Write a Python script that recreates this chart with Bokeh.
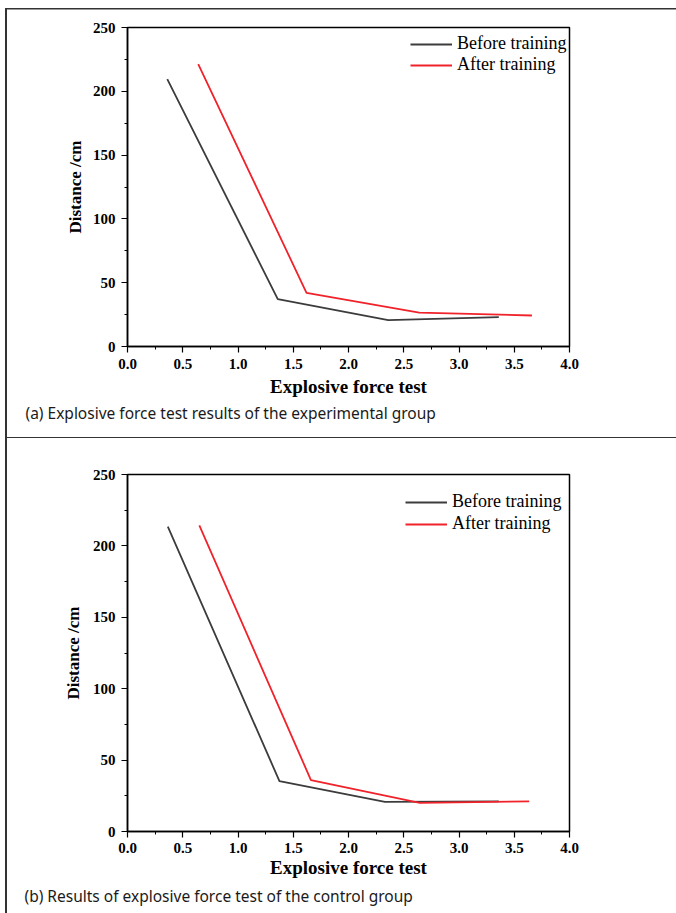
from bokeh.plotting import figure
from bokeh.layouts import column
from bokeh.models import Title, Legend, LegendItem, FixedTicker, Range1d, NumeralTickFormatter
from bokeh.embed import file_html
from bokeh.resources import INLINE

# ---- data ----
x_ticks = [0.0, 0.5, 1.0, 1.5, 2.0, 2.5, 3.0, 3.5, 4.0]
x_minor = [0.25, 0.75, 1.25, 1.75, 2.25, 2.75, 3.25, 3.75]
y_ticks = [0, 50, 100, 150, 200, 250]
y_minor = [25, 75, 125, 175, 225]

series_names = ["Before training", "After training"]

a_before_x = [0.36, 1.36, 2.36, 3.36]
a_before_y = [209.5, 37.1, 20.6, 23.0]
a_after_x = [0.64, 1.62, 2.64, 3.66]
a_after_y = [221.3, 42.1, 26.6, 24.3]

b_before_x = [0.365, 1.375, 2.33, 3.36]
b_before_y = [213.5, 35.3, 20.8, 21.1]
b_after_x = [0.65, 1.66, 2.645, 3.635]
b_after_y = [214.4, 36.0, 20.1, 21.1]

x_label = "Explosive force test"
y_label = "Distance /cm"
caption_a = "(a) Explosive force test results of the experimental group"
caption_b = "(b) Results of explosive force test of the control group"

SERIF = "Liberation Serif"
SANS = "Noto Sans"
DARK = "#3c3c3c"
RED = "#f0222a"
RULE = "#333333"


def panel(bx, by, ax, ay, caption, width, height, ml, mr, mt, mb,
          leg_loc, leg_spacing, cap_offset, cap_standoff, x_tick_standoff,
          x_label_standoff, y_label_standoff, styles):
    p = figure(width=width, height=height, output_backend="svg", toolbar_location=None,
               x_range=Range1d(0, 4), y_range=Range1d(0, 250),
               min_border_left=ml, min_border_right=mr, min_border_top=mt, min_border_bottom=mb,
               background_fill_color="white", border_fill_alpha=0, styles=styles)
    p.grid.visible = False
    p.outline_line_color = "black"
    p.outline_line_width = 1.5
    p.outline_line_alpha = 1.0

    r1 = p.line(bx, by, line_color=DARK, line_width=1.8)
    r2 = p.line(ax, ay, line_color=RED, line_width=1.8)

    p.xaxis.ticker = FixedTicker(ticks=x_ticks, minor_ticks=x_minor)
    p.yaxis.ticker = FixedTicker(ticks=y_ticks, minor_ticks=y_minor)
    p.xaxis.formatter = NumeralTickFormatter(format="0.0")
    for axis in (p.xaxis, p.yaxis):
        axis.axis_line_color = "black"
        axis.axis_line_width = 1.5
        axis.major_tick_line_color = "black"
        axis.minor_tick_line_color = "black"
        axis.major_tick_line_width = 1.2
        axis.minor_tick_line_width = 1.0
        axis.major_tick_in = 0
        axis.major_tick_out = 6
        axis.minor_tick_in = 0
        axis.minor_tick_out = 3
        axis.major_label_text_font = SERIF
        axis.major_label_text_font_style = "bold"
        axis.major_label_text_font_size = "15px"
        axis.major_label_text_color = "black"
        axis.axis_label_text_font = SERIF
        axis.axis_label_text_font_style = "bold"
        axis.axis_label_text_color = "black"
        axis.major_label_standoff = 6
    p.xaxis.major_label_standoff = x_tick_standoff
    p.xaxis.axis_label = x_label
    p.yaxis.axis_label = y_label
    p.xaxis.axis_label_text_font_size = "19px"
    p.yaxis.axis_label_text_font_size = "17px"
    p.xaxis.axis_label_standoff = x_label_standoff
    p.yaxis.axis_label_standoff = y_label_standoff

    legend = Legend(items=[LegendItem(label=series_names[0], renderers=[r1]),
                           LegendItem(label=series_names[1], renderers=[r2])],
                    location=leg_loc, border_line_color=None,
                    background_fill_alpha=0, margin=0, padding=6,
                    spacing=leg_spacing, glyph_width=42, glyph_height=20,
                    label_standoff=5, label_text_font=SERIF,
                    label_text_font_size="18px", label_text_color="black")
    p.add_layout(legend)

    t = Title(text=caption, align="left", offset=cap_offset, text_font=SANS,
              text_font_style="normal", text_font_size="15.5px", text_color="#1a1a1a",
              standoff=cap_standoff)
    p.add_layout(t, "below")
    return p


top_bg = ", ".join([
    f"linear-gradient({RULE},{RULE}) 5px 8px / 2px 430px no-repeat",
    f"linear-gradient({RULE},{RULE}) 5px 8px / 671px 1.5px no-repeat",
    f"linear-gradient({RULE},{RULE}) 5px 436.5px / 671px 2px no-repeat",
])
bottom_bg = f"linear-gradient({RULE},{RULE}) 5px 0px / 2px 475px no-repeat"

top = panel(a_before_x, a_before_y, a_after_x, a_after_y, caption_a,
            width=676, height=438, ml=127, mr=98, mt=27, mb=92,
            leg_loc=(283, 271), leg_spacing=0, cap_offset=-102, cap_standoff=0,
            x_tick_standoff=6, x_label_standoff=4, y_label_standoff=5,
            styles={"background": top_bg})
bottom = panel(b_before_x, b_before_y, b_after_x, b_after_y, caption_b,
               width=676, height=475, ml=124, mr=107, mt=36, mb=82,
               leg_loc=(278, 297), leg_spacing=1, cap_offset=-103, cap_standoff=4,
               x_tick_standoff=5, x_label_standoff=1, y_label_standoff=7,
               styles={"background": bottom_bg})

layout = column(top, bottom, spacing=0)
open("out.html", "w").write(file_html(layout, INLINE))
